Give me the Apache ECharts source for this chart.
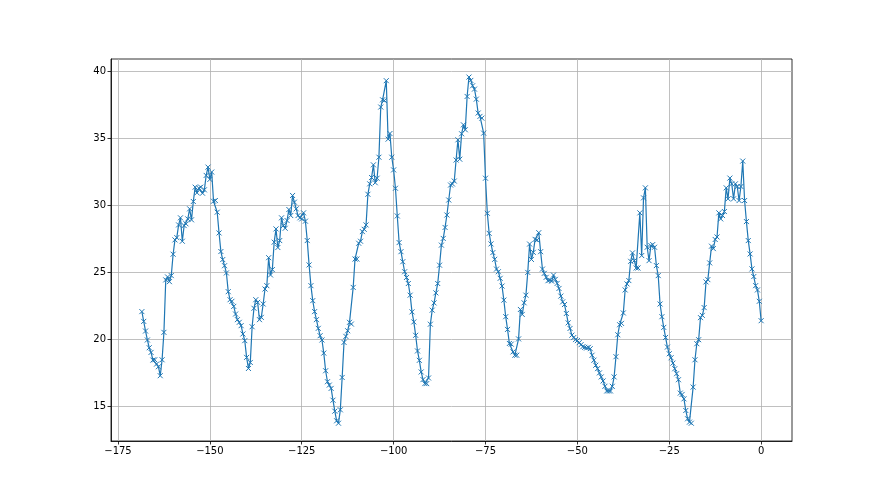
<!DOCTYPE html>
<html><head><meta charset="utf-8">
<script src="https://cdn.jsdelivr.net/npm/echarts@6/dist/echarts.min.js"></script>
<style>html,body{margin:0;padding:0;background:#fff}#chart{width:880px;height:495px}</style>
</head><body><div id="chart"></div>
<script>
// sampled values, every 0.5 units from -168.5 to 0
const values = [
22.07,21.34,20.62,19.95,19.37,19.02,18.45,18.47,18.15,17.95,17.28,18.47,20.52,24.44,24.66,24.31,24.76,26.36,27.43,27.6,28.55,29.08,27.33,28.5,28.63,29.0,29.75,
28.93,30.3,31.37,30.95,31.3,31.37,30.92,31.17,32.25,32.87,31.95,32.5,30.32,30.37,29.5,27.95,26.56,25.96,25.5,24.96,23.56,22.96,22.84,22.46,21.89,21.47,21.27,21.02,20.4,
19.9,18.65,17.82,18.27,20.94,22.32,22.96,22.76,21.47,21.64,22.64,23.76,24.01,26.1,24.81,25.21,27.26,28.25,26.86,27.38,29.08,28.5,28.3,28.88,29.7,29.25,30.75,30.25,29.75,
29.25,29.08,29.0,29.45,28.83,27.38,25.56,24.01,22.89,22.07,21.47,20.82,20.27,19.95,18.97,17.65,16.83,16.58,16.33,15.45,14.63,13.91,13.73,14.73,17.15,19.77,20.22,20.64,21.27,
21.14,23.88,26.0,26.0,27.18,27.33,28.05,28.22,28.55,30.84,31.62,32.09,33.04,31.7,32.04,33.61,37.36,37.9,37.85,39.33,34.96,35.38,33.61,32.66,31.29,29.22,27.23,26.55,25.8,
25.05,24.62,24.17,23.3,22.05,21.3,20.3,19.13,18.43,17.56,16.99,16.69,16.69,17.11,21.13,22.18,22.72,23.47,24.17,25.54,27.04,27.54,28.36,29.29,30.41,31.53,31.61,31.83,33.4,
34.91,33.46,35.36,36.03,35.66,38.15,39.6,39.35,38.95,38.7,37.95,36.91,36.66,36.53,35.41,32.04,29.42,27.92,27.13,26.48,25.98,25.25,25.05,24.56,23.98,22.93,21.69,20.74,19.69,
19.64,19.06,18.81,18.81,20.03,22.23,21.86,22.73,23.3,25.0,27.12,25.97,26.5,27.47,27.42,27.97,26.55,25.25,24.93,24.63,24.38,24.43,24.35,24.8,24.48,24.18,23.8,23.23,
22.8,22.6,21.93,21.23,20.81,20.31,20.13,19.98,19.9,19.75,19.6,19.45,19.4,19.35,19.4,19.3,18.81,18.44,18.06,17.81,17.49,17.19,16.89,16.49,16.14,16.14,16.14,16.49,17.19,
18.7,20.34,21.09,21.19,21.97,23.69,24.14,24.39,25.83,26.46,25.88,25.33,25.33,29.45,26.26,30.57,31.32,26.88,25.88,27.0,27.08,26.88,25.51,24.76,22.64,21.69,20.89,20.14,
19.42,18.92,18.62,18.22,17.8,17.43,16.98,15.98,15.88,15.55,14.68,14.06,13.81,13.73,16.43,18.47,19.67,19.97,21.62,21.79,22.37,24.29,24.46,25.71,26.96,26.78,27.46,27.65,29.45,
29.0,29.25,29.55,31.32,30.5,32.05,31.62,30.5,31.62,31.42,30.37,31.42,33.32,30.37,28.8,27.38,26.38,25.26,24.69,24.01,23.69,22.84,21.39
];
const xStart = -168.5, xStep = 0.5;
const xTicks = [-175, -150, -125, -100, -75, -50, -25, 0];
const yTicks = [15, 20, 25, 30, 35, 40];
const xRange = [-176.9, 8.4];
const yRange = [12.4, 40.95];

const points = values.map((v, i) => [xStart + i * xStep, v]);
const fmt = v => (v < 0 ? '\u2212' + Math.abs(v) : String(v));
const chart = echarts.init(document.getElementById('chart'), null, {renderer: 'canvas'});
const axisCommon = {
  axisLine: {show: true, onZero: false, lineStyle: {color: '#000', width: 0.8}},
  splitLine: {show: true, lineStyle: {color: '#b0b0b0', width: 0.8}},
  splitArea: {show: false}
};
chart.setOption({
  animation: false,
  backgroundColor: '#fff',
  grid: {left: 111, right: 88, top: 59, bottom: 54, show: true, borderColor: '#000', borderWidth: 0.8, backgroundColor: 'transparent'},
  xAxis: Object.assign({
    type: 'value', min: xRange[0], max: xRange[1],
    axisTick: {show: true, inside: false, length: 3.5, lineStyle: {color: '#000', width: 0.8}, customValues: xTicks},
    axisLabel: {customValues: xTicks, formatter: fmt, color: '#000', fontSize: 10, fontFamily: 'DejaVu Sans', margin: 5}
  }, axisCommon),
  yAxis: Object.assign({
    type: 'value', min: yRange[0], max: yRange[1],
    axisTick: {show: true, inside: false, length: 3.5, lineStyle: {color: '#000', width: 0.8}, customValues: yTicks},
    axisLabel: {customValues: yTicks, formatter: fmt, color: '#000', fontSize: 10, fontFamily: 'DejaVu Sans', margin: 5}
  }, axisCommon),
  series: [{
    type: 'line',
    data: points,
    symbol: 'path://M0,0L10,10M10,0L0,10',
    symbolSize: 5,
    showSymbol: true,
    showAllSymbol: true,
    lineStyle: {color: '#1f77b4', width: 1.2},
    itemStyle: {color: 'rgba(0,0,0,0)', borderColor: '#1f77b4', borderWidth: 1},
    emphasis: {disabled: true}
  }]
});
</script>
</body></html>
